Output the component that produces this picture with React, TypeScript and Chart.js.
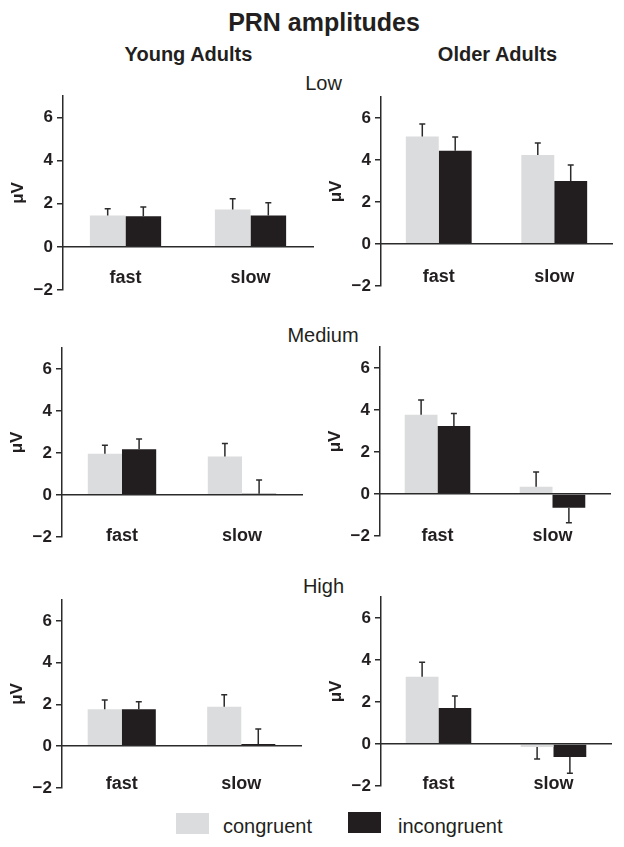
import React, { useEffect, useRef } from 'react';
import { Chart, registerables } from 'chart.js';

Chart.register(...registerables);

// ---------- data ----------
const categories = ['fast', 'slow'];
const seriesNames = ['congruent', 'incongruent'];
const yTickValues = [-2, 0, 2, 4, 6];
const yMin = -2;
const yMax = 7;

// Low load
const lowYoungCongruent = [1.46, 1.73];
const lowYoungCongruentSE = [0.31, 0.5];
const lowYoungIncongruent = [1.42, 1.46];
const lowYoungIncongruentSE = [0.43, 0.59];
const lowOlderCongruent = [5.12, 4.24];
const lowOlderCongruentSE = [0.59, 0.57];
const lowOlderIncongruent = [4.44, 3.0];
const lowOlderIncongruentSE = [0.65, 0.76];

// Medium load
const medYoungCongruent = [1.96, 1.83];
const medYoungCongruentSE = [0.41, 0.62];
const medYoungIncongruent = [2.18, 0.06];
const medYoungIncongruentSE = [0.49, 0.66];
const medOlderCongruent = [3.77, 0.34];
const medOlderCongruentSE = [0.71, 0.71];
const medOlderIncongruent = [3.24, -0.65];
const medOlderIncongruentSE = [0.59, 0.72];

// High load
const highYoungCongruent = [1.77, 1.89];
const highYoungCongruentSE = [0.44, 0.57];
const highYoungIncongruent = [1.77, 0.11];
const highYoungIncongruentSE = [0.36, 0.72];
const highOlderCongruent = [3.2, -0.14];
const highOlderCongruentSE = [0.69, 0.58];
const highOlderIncongruent = [1.72, -0.62];
const highOlderIncongruentSE = [0.56, 0.77];

// ---------- styles ----------
const FONT = '"Liberation Sans", Arial, Helvetica, sans-serif';
const TEXT = '#231f20';
const AXIS = '#2b2b2b';
const CONG_COLOR = '#dbdcdd';
const INCONG_COLOR = '#221e1f';
const PAD = { left: 5, top: 20, right: 8, bottom: 20 };
const YAXIS_W = 55;

const errorBarPlugin = {
  id: 'errorBars',
  afterDatasetsDraw(chart: any) {
    const ctx = chart.ctx;
    const yScale = chart.scales.y;
    ctx.save();
    ctx.strokeStyle = AXIS;
    ctx.lineWidth = 1.5;
    chart.data.datasets.forEach((ds: any, i: number) => {
      const meta = chart.getDatasetMeta(i);
      meta.data.forEach((bar: any, j: number) => {
        const v = ds.data[j];
        const e = ds.errors[j];
        const end = v >= 0 ? v + e : v - e;
        const yEnd = yScale.getPixelForValue(end);
        const x = bar.x;
        ctx.beginPath();
        ctx.moveTo(x, bar.y);
        ctx.lineTo(x, yEnd);
        ctx.moveTo(x - 3, yEnd);
        ctx.lineTo(x + 3, yEnd);
        ctx.stroke();
      });
    });
    ctx.restore();
  },
};

type Box = { left: number; right: number; top: number; bottom: number };

function Panel(props: {
  cong: number[];
  congSE: number[];
  incong: number[];
  incongSE: number[];
  box: Box;
  labelPad: number;
}) {
  const ref = useRef<HTMLCanvasElement>(null);
  const { box } = props;
  const cLeft = box.left - YAXIS_W - PAD.left;
  const cTop = box.top - PAD.top;
  const cWidth = box.right + PAD.right - cLeft;
  const cHeight = box.bottom + PAD.bottom - cTop;

  useEffect(() => {
    if (!ref.current) return;
    const chart = new Chart(ref.current, {
      type: 'bar',
      data: {
        labels: categories,
        datasets: [
          {
            label: seriesNames[0],
            data: props.cong,
            errors: props.congSE,
            backgroundColor: CONG_COLOR,
            borderWidth: 0,
            categoryPercentage: 0.57,
            barPercentage: 1.0,
          } as any,
          {
            label: seriesNames[1],
            data: props.incong,
            errors: props.incongSE,
            backgroundColor: INCONG_COLOR,
            borderWidth: 0,
            categoryPercentage: 0.57,
            barPercentage: 1.0,
          } as any,
        ],
      },
      options: {
        responsive: false,
        animation: false,
        layout: { padding: PAD },
        plugins: { legend: { display: false }, tooltip: { enabled: false } },
        scales: {
          x: {
            type: 'category',
            position: { y: 0 } as any,
            offset: true,
            grid: { display: false, drawTicks: false },
            border: { display: true, color: AXIS, width: 1.5, z: 1 },
            ticks: {
              padding: props.labelPad,
              color: TEXT,
              autoSkip: false,
              maxRotation: 0,
              font: { family: FONT, size: 18, weight: 'bold' },
            },
          },
          y: {
            min: yMin,
            max: yMax,
            afterBuildTicks: (s: any) => {
              s.ticks = yTickValues.map((v) => ({ value: v }));
            },
            afterFit: (s: any) => {
              s.width = YAXIS_W;
            },
            grid: {
              drawOnChartArea: false,
              drawTicks: true,
              tickLength: 6,
              color: AXIS,
              lineWidth: 1.5,
            },
            border: { display: true, color: AXIS, width: 1.5 },
            ticks: {
              padding: 4,
              color: TEXT,
              font: { family: FONT, size: 17, weight: 'bold' },
              callback: (v: any) => (Number(v) < 0 ? '\u2212' + Math.abs(Number(v)) : String(v)),
            },
            title: {
              display: true,
              text: '\u03bcV',
              color: TEXT,
              padding: 0,
              font: { family: FONT, size: 17, weight: 'bold' },
            },
          },
        },
      } as any,
      plugins: [errorBarPlugin],
    });
    return () => chart.destroy();
  }, []);

  return (
    <canvas
      ref={ref}
      width={cWidth}
      height={cHeight}
      style={{ position: 'absolute', left: cLeft, top: cTop, width: cWidth, height: cHeight }}
    />
  );
}

function Label(props: { text: string; cx?: number; left?: number; top: number; size: number; bold?: boolean }) {
  const style: any = {
    position: 'absolute',
    top: props.top,
    fontFamily: FONT,
    fontSize: props.size,
    lineHeight: props.size + 'px',
    fontWeight: props.bold ? 'bold' : 'normal',
    color: TEXT,
    whiteSpace: 'nowrap',
  };
  if (props.cx !== undefined) {
    style.left = props.cx - 200;
    style.width = 400;
    style.textAlign = 'center';
  } else {
    style.left = props.left;
  }
  return <div style={style}>{props.text}</div>;
}

export default function App() {
  return (
    <div
      style={{
        position: 'absolute',
        left: 0,
        top: 0,
        width: 624,
        height: 847,
        background: '#ffffff',
        overflow: 'hidden',
      }}
    >
      <Label text="PRN amplitudes" cx={324} top={9.5} size={25} bold />
      <Label text="Young Adults" cx={188.5} top={43.6} size={20} bold />
      <Label text="Older Adults" cx={497.5} top={44} size={20} bold />
      <Label text="Low" cx={323.5} top={73} size={20} />
      <Label text="Medium" cx={323} top={324.8} size={20} />
      <Label text="High" cx={323.5} top={576.4} size={20} />

      <Panel cong={lowYoungCongruent} congSE={lowYoungCongruentSE} incong={lowYoungIncongruent} incongSE={lowYoungIncongruentSE}
        box={{ left: 63, right: 313, top: 96, bottom: 290 }} labelPad={20} />
      <Panel cong={lowOlderCongruent} congSE={lowOlderCongruentSE} incong={lowOlderIncongruent} incongSE={lowOlderIncongruentSE}
        box={{ left: 381, right: 612, top: 97, bottom: 286 }} labelPad={22} />
      <Panel cong={medYoungCongruent} congSE={medYoungCongruentSE} incong={medYoungIncongruent} incongSE={medYoungIncongruentSE}
        box={{ left: 62, right: 302, top: 348, bottom: 537 }} labelPad={30} />
      <Panel cong={medOlderCongruent} congSE={medOlderCongruentSE} incong={medOlderIncongruent} incongSE={medOlderIncongruentSE}
        box={{ left: 380, right: 610, top: 347, bottom: 536 }} labelPad={31} />
      <Panel cong={highYoungCongruent} congSE={highYoungCongruentSE} incong={highYoungIncongruent} incongSE={highYoungIncongruentSE}
        box={{ left: 62, right: 301, top: 600, bottom: 788 }} labelPad={27} />
      <Panel cong={highOlderCongruent} congSE={highOlderCongruentSE} incong={highOlderIncongruent} incongSE={highOlderIncongruentSE}
        box={{ left: 381, right: 611, top: 597, bottom: 786 }} labelPad={29} />

      <div style={{ position: 'absolute', left: 176, top: 813, width: 33, height: 21, background: CONG_COLOR }} />
      <Label text={seriesNames[0]} left={223} top={816.4} size={20} />
      <div style={{ position: 'absolute', left: 348, top: 812, width: 33, height: 21, background: INCONG_COLOR }} />
      <Label text={seriesNames[1]} left={398} top={816} size={20} />
    </div>
  );
}
